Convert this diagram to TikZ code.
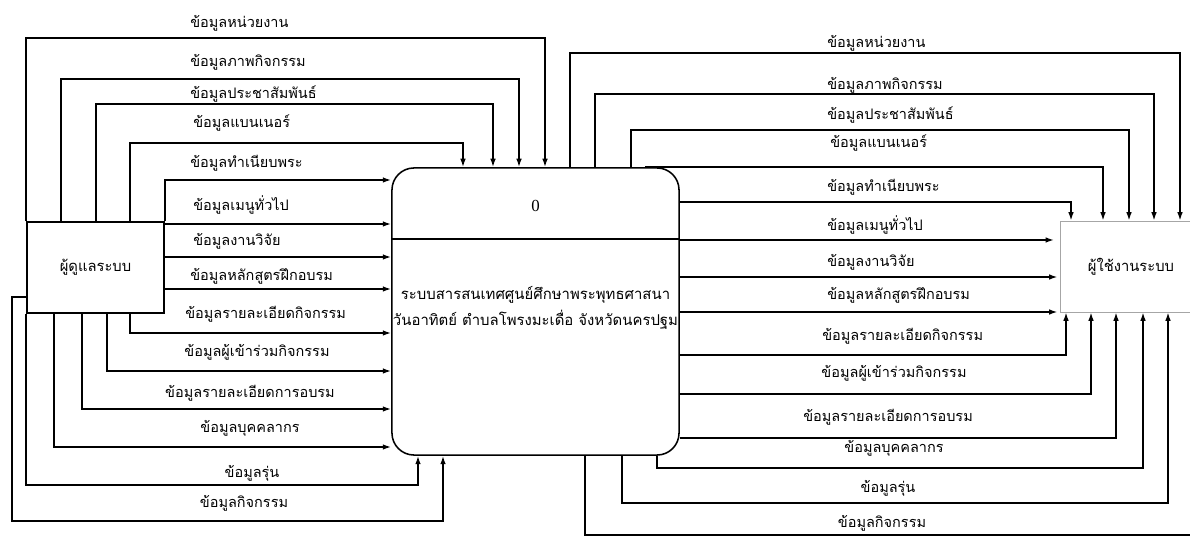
\documentclass[tikz,border=0pt]{standalone}
\usepackage{fontspec}
\newfontfamily\thaifont[Script=Thai]{Loma}
\newfontfamily\numfont{Liberation Serif}
\usetikzlibrary{arrows.meta}

\tikzset{
  flow/.style={line width=1.1pt, -{Latex[length=6pt,width=4pt]}},
  lbl/.style={font=\thaifont\fontsize{10.3}{12}\selectfont, inner sep=0pt},
  entity/.style={draw, line width=1.1pt, minimum height=2.275cm,
    font=\thaifont\fontsize{10.5}{12}\selectfont},
}

\begin{document}
\begin{tikzpicture}[x=0.025cm, y=-0.025cm]
  \useasboundingbox (0,0) rectangle (1190,536);
  \clip (0,0) rectangle (1190,536);

  % Create entities and process
  \node[entity, minimum width=3.425cm] (admin) at (95.5,267.5) {ผู้ดูแลระบบ};
  \node[entity, draw=gray!70, line width=0.5pt, minimum width=3.55cm] (user) at (1131,266.5) {ผู้ใช้งานระบบ};
  \node[draw, line width=1.1pt, rounded corners=0.55cm, minimum width=7.175cm,
    minimum height=7.175cm] (proc) at (535.5,311.5) {};
  \draw[line width=1.1pt] (proc.west |- 0,239) -- (proc.east |- 0,239);
  \node[font=\numfont\fontsize{12}{14}\selectfont] (procno) at (535.5,206) {0};
  \node[lbl, font=\thaifont\fontsize{10.6}{18.5}\selectfont, align=center] (procname)
    at (535.5,308) {ระบบสารสนเทศศูนย์ศึกษาพระพุทธศาสนา\\วันอาทิตย์ ตำบลโพรงมะเดื่อ จังหวัดนครปฐม};

  % Add flows from admin to process
  \draw[flow] (admin.north west) |- (545,38) -- (proc.north -| 545,0);
  \draw[flow] (admin.north -| 61,0) |- (519,79) -- (proc.north -| 519,0);
  \draw[flow] (admin.north -| 96,0) |- (493,104) -- (proc.north -| 493,0);
  \draw[flow] (admin.north -| 130,0) |- (463,143) -- (proc.north -| 463,0);
  \draw[flow] (admin.north east) |- (proc.west |- 0,180);
  \draw[flow] (admin.east |- 0,224) -- (proc.west |- 0,224);
  \draw[flow] (admin.east |- 0,257) -- (proc.west |- 0,257);
  \draw[flow] (admin.east |- 0,289) -- (proc.west |- 0,289);
  \draw[flow] (admin.south -| 130,0) |- (proc.west |- 0,333);
  \draw[flow] (admin.south -| 107,0) |- (proc.west |- 0,371);
  \draw[flow] (admin.south -| 82,0) |- (proc.west |- 0,409);
  \draw[flow] (admin.south -| 54,0) |- (proc.west |- 0,447);
  \draw[flow] (admin.south west) |- (418,485) -- (proc.south -| 418,0);
  \draw[flow] (admin.west |- 0,297) -- (12,297) |- (443,521) -- (proc.south -| 443,0);

  % Add flows from process to user
  \draw[flow] (proc.north -| 570,0) |- (1180,53) -- (user.north -| 1180,0);
  \draw[flow] (proc.north -| 595,0) |- (1154,94) -- (user.north -| 1154,0);
  \draw[flow] (proc.north -| 631,0) |- (1129,130) -- (user.north -| 1129,0);
  \draw[flow] (proc.north -| 645,0) -| (user.north -| 1103,0);
  \draw[flow] (proc.east |- 0,202) -| (user.north -| 1071,0);
  \draw[flow, shorten >=4pt] (proc.east |- 0,240) -- (user.west |- 0,240);
  \draw[flow, shorten >=1.5pt] (proc.east |- 0,277) -- (user.west |- 0,277);
  \draw[flow, shorten >=1.5pt] (proc.east |- 0,312) -- (user.west |- 0,312);
  \draw[flow] (proc.east |- 0,355) -| (user.south -| 1066,0);
  \draw[flow] (proc.east |- 0,394) -| (user.south -| 1091,0);
  \draw[flow] (proc.east |- 0,438) -| (user.south -| 1116,0);
  \draw[flow] (proc.south -| 657,0) |- (1143,468) -- (user.south -| 1143,0);
  \draw[flow] (proc.south -| 622,0) |- (1168,503) -- (user.south -| 1168,0);
  \draw[flow] (proc.south -| 585,0) |- (1197,535) -- (user.south -| 1197,0);

  % Labels on the left
  \node[lbl, anchor=west] (lunit) at (190,23) {ข้อมูลหน่วยงาน};
  \node[lbl, anchor=west] (lphoto) at (190,62) {ข้อมูลภาพกิจกรรม};
  \node[lbl, anchor=west] (lnews) at (190,94) {ข้อมูลประชาสัมพันธ์};
  \node[lbl, anchor=west] (lbanner) at (193,123) {ข้อมูลแบนเนอร์};
  \node[lbl, anchor=west] (lmonk) at (190,163) {ข้อมูลทำเนียบพระ};
  \node[lbl, anchor=west] (lmenu) at (193,205) {ข้อมูลเมนูทั่วไป};
  \node[lbl, anchor=west] (lresearch) at (193,241) {ข้อมูลงานวิจัย};
  \node[lbl, anchor=west] (lcourse) at (190,276) {ข้อมูลหลักสูตรฝึกอบรม};
  \node[lbl, anchor=west] (lactdet) at (185,314) {ข้อมูลรายละเอียดกิจกรรม};
  \node[lbl] (ljoin) at (257,352) {ข้อมูลผู้เข้าร่วมกิจกรรม};
  \node[lbl] (ltrain) at (250,393) {ข้อมูลรายละเอียดการอบรม};
  \node[lbl] (lstaff) at (250,428) {ข้อมูลบุคคลากร};
  \node[lbl] (lgen) at (252,473) {ข้อมูลรุ่น};
  \node[lbl] (lact) at (244,503) {ข้อมูลกิจกรรม};

  % Labels on the right
  \node[lbl, anchor=west] (runit) at (827,43) {ข้อมูลหน่วยงาน};
  \node[lbl, anchor=west] (rphoto) at (827,85) {ข้อมูลภาพกิจกรรม};
  \node[lbl, anchor=west] (rnews) at (827,115) {ข้อมูลประชาสัมพันธ์};
  \node[lbl, anchor=west] (rbanner) at (830,143) {ข้อมูลแบนเนอร์};
  \node[lbl, anchor=west] (rmonk) at (827,187) {ข้อมูลทำเนียบพระ};
  \node[lbl, anchor=west] (rmenu) at (827,225) {ข้อมูลเมนูทั่วไป};
  \node[lbl, anchor=west] (rresearch) at (827,262) {ข้อมูลงานวิจัย};
  \node[lbl, anchor=west] (rcourse) at (827,295) {ข้อมูลหลักสูตรฝึกอบรม};
  \node[lbl, anchor=west] (ractdet) at (822,336) {ข้อมูลรายละเอียดกิจกรรม};
  \node[lbl] (rjoin) at (894,373) {ข้อมูลผู้เข้าร่วมกิจกรรม};
  \node[lbl] (rtrain) at (888,417) {ข้อมูลรายละเอียดการอบรม};
  \node[lbl] (rstaff) at (894,448) {ข้อมูลบุคคลากร};
  \node[lbl] (rgen) at (888,488) {ข้อมูลรุ่น};
  \node[lbl] (ract) at (882,523) {ข้อมูลกิจกรรม};
\end{tikzpicture}
\end{document}
